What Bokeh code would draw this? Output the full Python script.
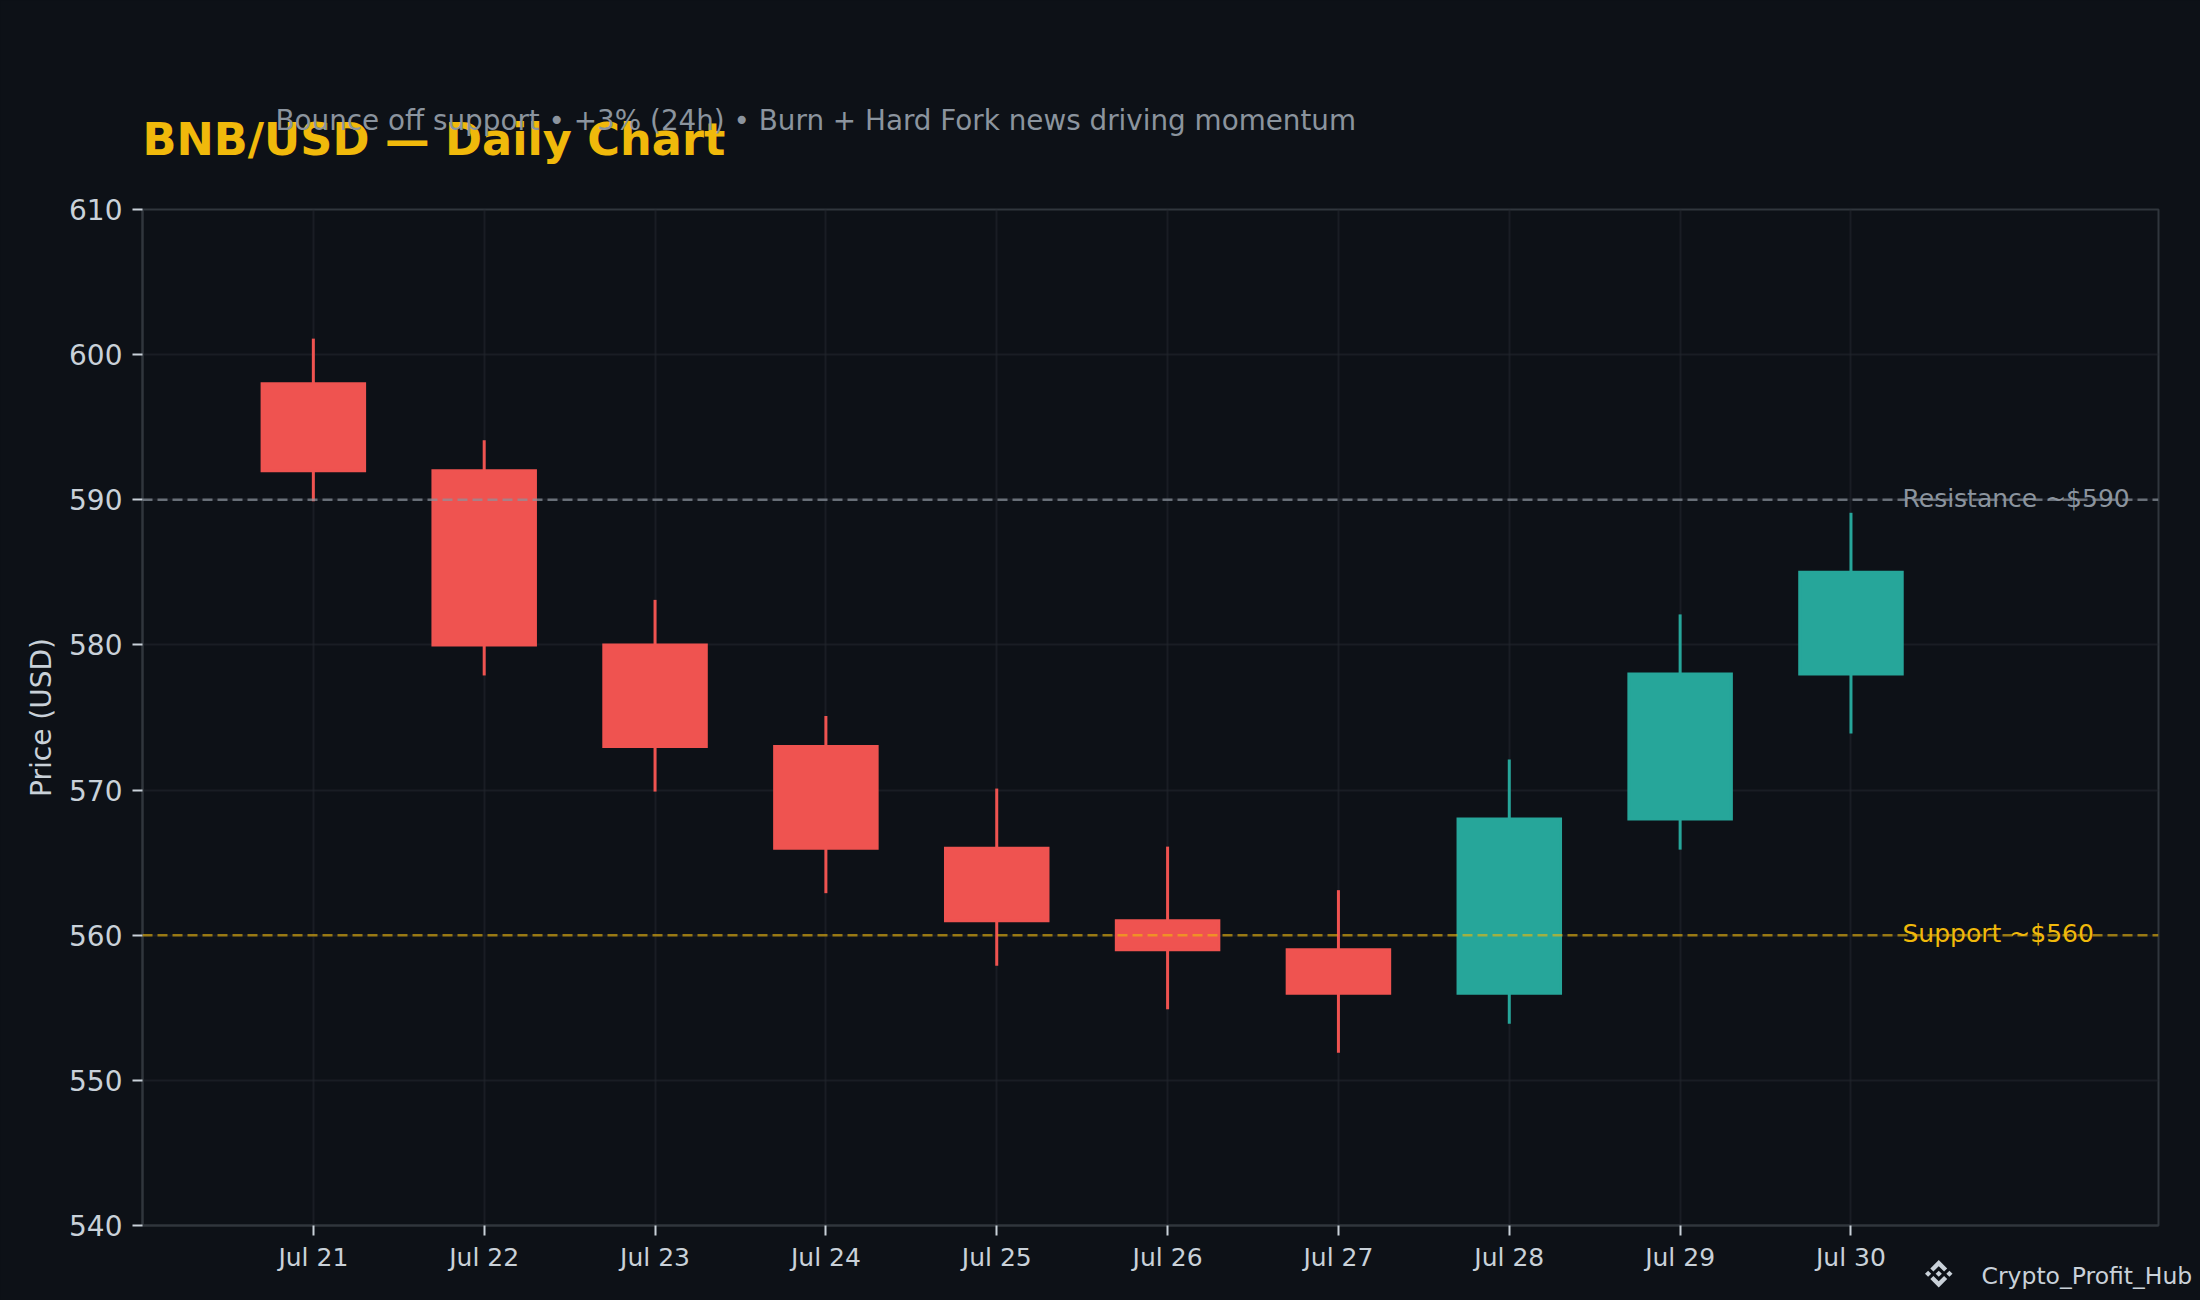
from bokeh.plotting import figure
from bokeh.models import ColumnDataSource, FixedTicker, Label, Span, Title
from bokeh.embed import file_html
from bokeh.resources import INLINE

# ---- data ----
dates = ["Jul 21", "Jul 22", "Jul 23", "Jul 24", "Jul 25", "Jul 26", "Jul 27", "Jul 28", "Jul 29", "Jul 30"]
opens = [598, 592, 580, 573, 566, 561, 559, 556, 568, 578]
closes = [592, 580, 573, 566, 561, 559, 556, 568, 578, 585]
highs = [601, 594, 583, 575, 570, 566, 563, 572, 582, 589]
lows = [590, 578, 570, 563, 558, 555, 552, 554, 566, 574]
y_ticks = [540, 550, 560, 570, 580, 590, 600, 610]
resistance = 590
support = 560

BG = "#0d1117"
RED = "#ef5350"
GREEN = "#26a69a"
GOLD = "#f0b90b"
MUTED = "#8b949e"
TEXT = "#c9d1d9"
BORDER = "#30363d"
GRID = "#21262d"
FONT = "DejaVu Sans"

W, H = 2200, 1300
LEFT, RIGHT, TOP, BOTTOM = 142, 2158, 209, 1225
X0, X1, Y0, Y1 = -1, 10.8, 540, 610

def dx(px):
    return X0 + (px - LEFT) * (X1 - X0) / (RIGHT - LEFT)

def dy(py):
    return Y0 + (BOTTOM - py) * (Y1 - Y0) / (BOTTOM - TOP)

xs = list(range(len(dates)))
colors = [GREEN if c > o else RED for o, c in zip(opens, closes)]
src = ColumnDataSource(dict(
    x=xs,
    top=[max(o, c) for o, c in zip(opens, closes)],
    bottom=[min(o, c) for o, c in zip(opens, closes)],
    high=highs, low=lows, color=colors,
))

p = figure(width=W, height=H, x_range=(X0, X1), y_range=(Y0, Y1),
           output_backend="svg", toolbar_location=None,
           background_fill_color=BG, border_fill_color=BG,
           min_border_left=LEFT, min_border_right=W - RIGHT,
           min_border_top=TOP, min_border_bottom=H - BOTTOM)

p.xaxis.ticker = FixedTicker(ticks=xs)
p.xaxis.major_label_overrides = {i: d for i, d in enumerate(dates)}
p.yaxis.ticker = FixedTicker(ticks=y_ticks)
p.yaxis.axis_label = "Price (USD)"
p.yaxis.axis_label_text_color = TEXT
p.yaxis.axis_label_text_font = FONT
p.yaxis.axis_label_text_font_size = "28px"
p.yaxis.axis_label_text_font_style = "normal"
p.yaxis.axis_label_standoff = 8
p.yaxis.major_label_text_font_size = "28px"
p.xaxis.major_label_text_font_size = "25px"
p.xaxis.major_label_standoff = 7
p.yaxis.major_label_standoff = 10
for ax in (p.xaxis, p.yaxis):
    ax.major_label_text_color = TEXT
    ax.major_label_text_font = FONT
    ax.axis_line_color = BORDER
    ax.axis_line_width = 2
    ax.major_tick_line_color = TEXT
    ax.major_tick_line_width = 2
    ax.major_tick_out = 10
    ax.major_tick_in = 0
    ax.minor_tick_line_color = None
p.outline_line_color = BORDER
p.outline_line_width = 2
p.grid.grid_line_color = GRID
p.grid.grid_line_alpha = 0.6
p.grid.grid_line_width = 2

p.add_layout(Span(location=resistance, dimension="width", line_color=MUTED, line_alpha=0.7,
                  line_width=2.6, line_dash="10 5"))
p.add_layout(Span(location=support, dimension="width", line_color=GOLD, line_alpha=0.6,
                  line_width=2.6, line_dash="10 5"))

p.segment("x", "low", "x", "high", source=src, line_color="color", line_width=3, line_cap="square")
p.vbar(x="x", width=0.6, top="top", bottom="bottom", source=src,
       fill_color="color", line_color="color", line_width=3, line_join="miter")

def text(px, py, s, size, color):
    p.add_layout(Label(x=dx(px), y=dy(py), text=s, text_color=color, text_baseline="middle",
                       text_font=FONT, text_font_size=size))

text(1902, 497.5, f"Resistance ~${resistance}", "25px", MUTED)
text(1902, 932.5, f"Support ~${support}", "25px", GOLD)

p.add_layout(Title(text="BNB/USD — Daily Chart", align="left", text_color=GOLD, text_font=FONT,
                   text_font_size="44.6px", text_font_style="bold", standoff=88), "above")
p.add_layout(Title(text="Bounce off support • +3% (24h) • Burn + Hard Fork news driving momentum",
                   align="left", offset=133, text_color=MUTED, text_font=FONT,
                   text_font_size="27.8px", text_font_style="normal", standoff=-138), "above")

p.add_layout(Title(text="Crypto_Profit_Hub", align="left", offset=1981 - LEFT, text_color=TEXT,
                   text_font=FONT, text_font_size="23.5px", text_font_style="normal", standoff=-30), "below")
p.add_layout(Title(text="@", align="left", offset=1957 - LEFT, text_color=TEXT,
                   text_font=FONT, text_font_size="24px", text_font_style="normal", standoff=-104), "below")

# Binance-style logo, a decoration of the page and not data
logo_polys = [
    "38.73,53.2 63.3,28.64 87.88,53.22 102.18,38.92 63.3,0 24.43,38.9",
    "0,63.31 14.3,49 28.6,63.31 14.3,77.61",
    "49.01,63.3 63.3,49 77.6,63.3 63.3,77.6",
    "87.88,73.39 63.3,97.97 38.73,73.4 24.42,87.7 63.3,126.6 102.18,87.7",
    "98,63.31 112.3,49 126.6,63.31 112.3,77.61",
]
logo = ('<svg xmlns="http://www.w3.org/2000/svg" viewBox="0 0 126.6 126.6" width="27.5" height="27.5" '
        'style="position:absolute;left:1925.2px;top:1260.2px;z-index:10">'
        + "".join(f'<polygon points="{q}" fill="{TEXT}"/>' for q in logo_polys) + "</svg>")

html = file_html(p, INLINE)
html = html.replace("</head>", f"<style>html,body{{background:{BG};}}</style></head>", 1)
html = html.replace("</body>", logo + "</body>", 1)
open("out.html", "w").write(html)
